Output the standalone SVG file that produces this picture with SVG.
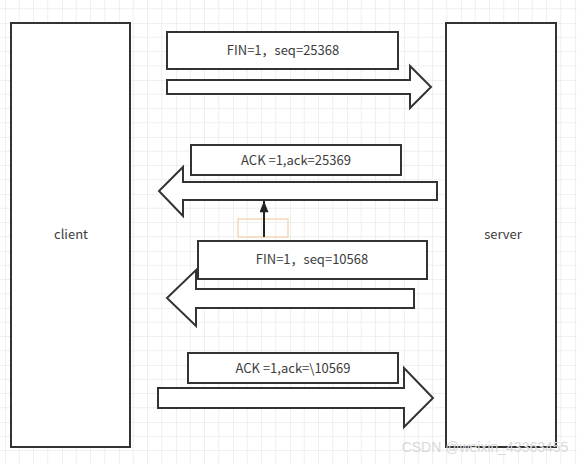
<svg xmlns="http://www.w3.org/2000/svg" width="577" height="464" viewBox="0 0 577 464">
<style>
.box{fill:#fff;stroke:#333;stroke-width:2}
.arr{fill:#fff;stroke:#333;stroke-width:2;stroke-linejoin:miter}
.lbl{font-family:"Noto Sans CJK SC","Noto Sans",sans-serif;font-size:13px;fill:#3c3c3c;text-anchor:middle}
</style>
<defs>
<pattern id="grid" x="5" y="23" width="57" height="57" patternUnits="userSpaceOnUse">
<path d="M14.25 0V57M28.5 0V57M42.75 0V57M0 14.25H57M0 28.5H57M0 42.75H57" stroke="#efefef" stroke-width="1" fill="none"/>
<path d="M0 0V57M0 0H57" stroke="#e2e2e2" stroke-width="1" fill="none"/>
</pattern>
<marker id="tri" viewBox="0 0 10 8" refX="10" refY="4" markerWidth="12" markerHeight="9" markerUnits="userSpaceOnUse" orient="auto">
<path d="M0 0L10 4L0 8Z" fill="#222"/>
</marker>
</defs>
<rect width="577" height="464" fill="#fff"/>
<rect width="577" height="464" fill="url(#grid)"/>

<g id="client">
<rect class="box" x="11" y="23" width="119" height="424"/>
<text class="lbl" x="71" y="239">client</text>
</g>
<g id="server">
<rect class="box" x="446" y="23" width="110" height="424"/>
<text class="lbl" x="503" y="239">server</text>
</g>

<g id="connectors">
<polygon class="arr" points="167,80 410,80 410,66 431,87 410,108 410,94 167,94"/>
<polygon class="arr" points="437,182 183,182 183,167 159,191 183,216 183,200 437,200"/>
<polygon class="arr" points="414,289 196,289 196,270 167,298 196,326 196,308 414,308"/>
<polygon class="arr" points="158,388 404,388 404,368 433,398 404,427 404,408 158,408"/>
<rect x="238" y="219" width="50" height="18" fill="none" stroke="#f5d9b8" stroke-width="1.5"/>
<line x1="264" y1="237" x2="264" y2="201" stroke="#222" stroke-width="2" marker-end="url(#tri)"/>
</g>

<g id="msg1">
<rect class="box" x="167" y="32" width="231" height="37"/>
<text class="lbl" x="283" y="55">FIN=1，seq=25368</text>
</g>
<g id="msg2">
<rect class="box" x="191" y="145" width="210" height="30"/>
<text class="lbl" x="296" y="165">ACK =1,ack=25369</text>
</g>
<g id="msg3">
<rect class="box" x="198" y="241" width="229" height="38"/>
<text class="lbl" x="312" y="264">FIN=1，seq=10568</text>
</g>
<g id="msg4">
<rect class="box" x="188" y="353" width="210" height="30"/>
<text class="lbl" x="293" y="373">ACK =1,ack=\10569</text>
</g>

<text x="485" y="452" font-family="Liberation Sans, sans-serif" font-size="14" fill="#d8d8d8" text-anchor="middle">CSDN @weixin_43363455</text>
</svg>
